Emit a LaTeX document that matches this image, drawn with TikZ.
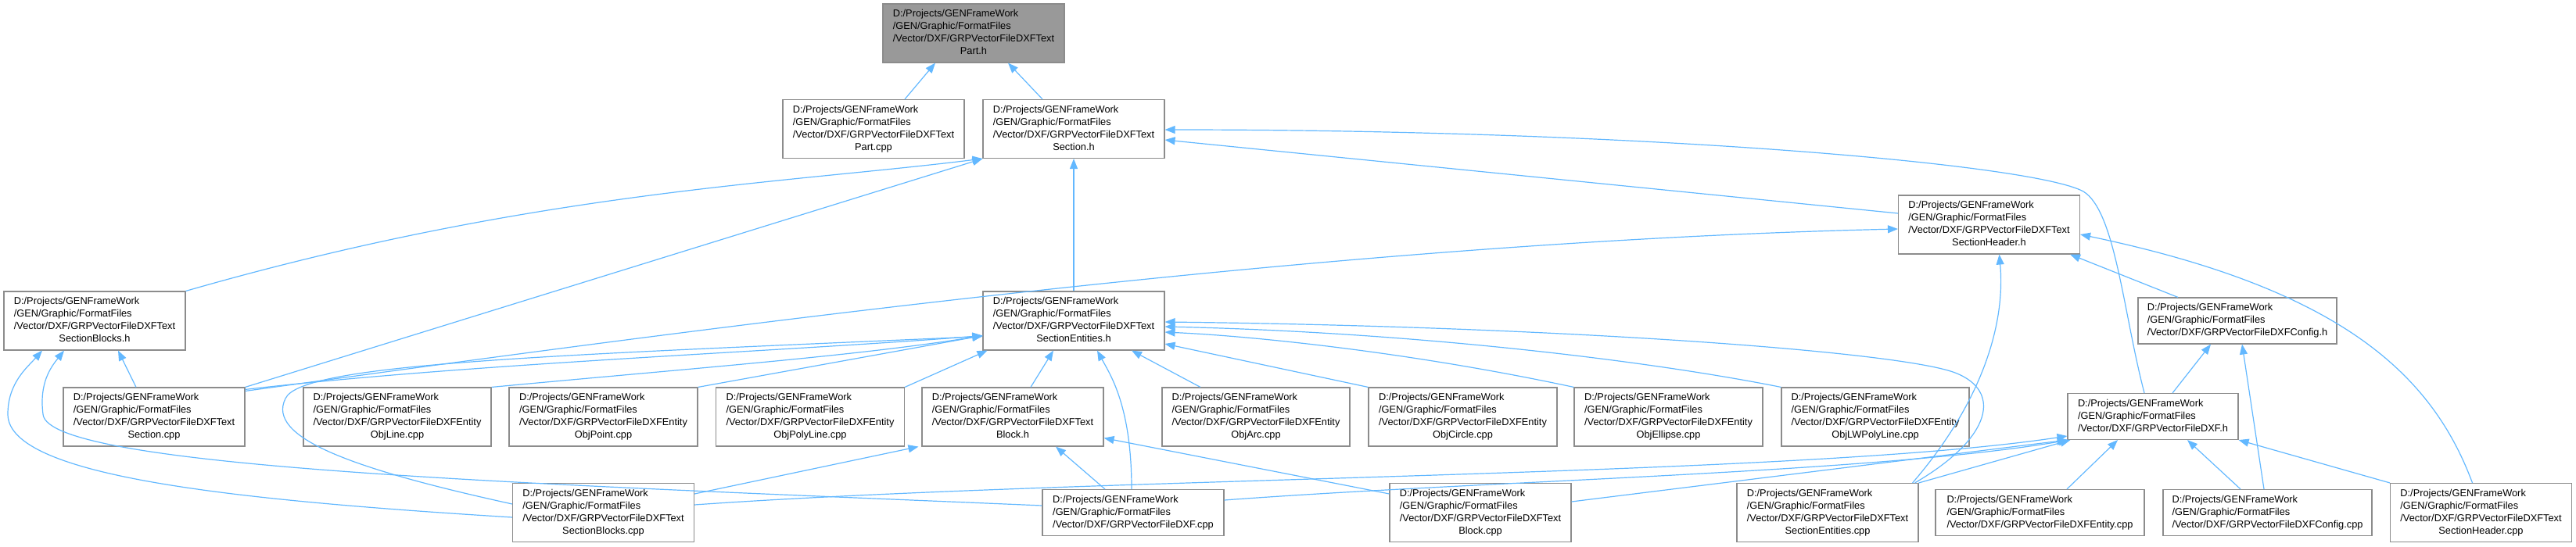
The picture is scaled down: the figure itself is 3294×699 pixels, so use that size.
\documentclass[tikz,border=0pt]{standalone}
\usepackage{fontspec}
\setmainfont{Liberation Sans}
\usetikzlibrary{arrows.meta}
\definecolor{edgeblue}{RGB}{99,184,255}
\definecolor{boxgray}{RGB}{140,140,140}
\definecolor{rootgray}{RGB}{153,153,153}
\newcommand{\fpath}[2]{\begin{tabular}{@{}l@{}}D:/Projects/GENFrameWork\\/GEN/Graphic/FormatFiles\\/Vector/DXF/GRPVectorFileDXF#1\\\multicolumn{1}{@{}c@{}}{#2}\end{tabular}}
\newcommand{\fshort}[1]{\begin{tabular}{@{}l@{}}D:/Projects/GENFrameWork\\/GEN/Graphic/FormatFiles\\/Vector/DXF/GRPVectorFileDXF#1\end{tabular}}
\begin{document}
\begin{tikzpicture}[x=1pt,y=-1pt,>={Triangle[length=13pt,width=10pt]},
	  file/.style={draw=boxgray,fill=white,line width=1.1pt,inner sep=0pt,minimum width=232pt,minimum height=75pt,font=\fontsize{12.8}{16}\selectfont},
	  short/.style={file,minimum height=59pt},
	  dep/.style={->,draw=edgeblue,line width=1.2pt}]
	  \useasboundingbox (0,0) rectangle (3294,699);
	  \node[file,fill=rootgray] (parth) at (1245,42.5) {\fpath{Text}{Part.h}};
	  \node[file] (partcpp) at (1117,165) {\fpath{Text}{Part.cpp}};
	  \node[file] (sech) at (1373,165) {\fpath{Text}{Section.h}};
	  \node[file] (hdrh) at (2543.5,287.5) {\fpath{Text}{SectionHeader.h}};
	  \node[file] (blkh) at (121,410.5) {\fpath{Text}{SectionBlocks.h}};
	  \node[file] (enth) at (1373,410.5) {\fpath{Text}{SectionEntities.h}};
	  \node[short,minimum width=254pt] (cfgh) at (2861,410.5) {\fshort{Config.h}};
	  \node[file] (seccpp) at (197,533.5) {\fpath{Text}{Section.cpp}};
	  \node[file,minimum width=240pt] (linecpp) at (508,533.5) {\fpath{Entity}{ObjLine.cpp}};
	  \node[file,minimum width=241pt] (pointcpp) at (771.5,533.5) {\fpath{Entity}{ObjPoint.cpp}};
	  \node[file,minimum width=241pt] (polycpp) at (1036,533.5) {\fpath{Entity}{ObjPolyLine.cpp}};
	  \node[file] (blockh) at (1295,533.5) {\fpath{Text}{Block.h}};
	  \node[file,minimum width=240pt] (arccpp) at (1606,533.5) {\fpath{Entity}{ObjArc.cpp}};
	  \node[file,minimum width=241pt] (circcpp) at (1870.5,533.5) {\fpath{Entity}{ObjCircle.cpp}};
	  \node[file,minimum width=241pt] (ellcpp) at (2133.5,533.5) {\fpath{Entity}{ObjEllipse.cpp}};
	  \node[file,minimum width=240pt] (lwpcpp) at (2398,533.5) {\fpath{Entity}{ObjLWPolyLine.cpp}};
	  \node[short,minimum width=218pt] (dxfh) at (2753,533) {\fshort{.h}};
	  \node[file] (sbcpp) at (771.5,656) {\fpath{Text}{SectionBlocks.cpp}};
	  \node[short] (dxfcpp) at (1449,656) {\fshort{.cpp}};
	  \node[file] (blockcpp) at (1893,656) {\fpath{Text}{Block.cpp}};
	  \node[file] (secentcpp) at (2337,656) {\fpath{Text}{SectionEntities.cpp}};
	  \node[short,minimum width=267pt] (entcpp) at (2608.5,656) {\fshort{Entity.cpp}};
	  \node[short,minimum width=267pt] (cfgcpp) at (2899.5,656) {\fshort{Config.cpp}};
	  \node[file] (hdrcpp) at (3172.5,656) {\fpath{Text}{SectionHeader.cpp}};
	  % Part.h and Section.h
	  \draw[dep] ([xshift=40pt]partcpp.north) -- ([xshift=-49pt]parth.south);
	  \draw[dep] ([xshift=-40pt]sech.north) -- ([xshift=44pt]parth.south);
	  \draw[dep] (blkh.north east) .. controls (680,245) and (1000,235) .. (sech.south west);
	  \draw[dep] (seccpp.north east) -- (sech.south west);
	  \draw[dep] (enth.north) -- (sech.south);
	  \draw[dep] ([yshift=14.5pt]hdrh.west) -- ([yshift=-14pt]sech.east);
	  \draw[dep] ([xshift=-11pt]dxfh.north) .. controls (2715,400) and (2705,270) .. (2664,245)
	    .. controls (2600,210) and (2100,166) .. ([yshift=-1pt]sech.east);
	  % SectionHeader.h
	  \draw[dep] ([yshift=-5pt]seccpp.north east) .. controls (900,420) and (1700,310) .. ([yshift=-5.5pt]hdrh.west);
	  \draw[dep] ([xshift=-76pt]cfgh.north) -- ([xshift=-13pt]hdrh.south east);
	  \draw[dep] ([xshift=-8pt]secentcpp.north east) .. controls (2530,520) and (2565,420) .. ([xshift=13pt]hdrh.south);
	  \draw[dep] ([xshift=-11pt]hdrcpp.north) .. controls (3110,480) and (2995,370) .. ([yshift=-12.5pt]hdrh.east);
	  % SectionBlocks.h
	  \draw[dep] ([xshift=-23pt]seccpp.north) -- ([xshift=30pt]blkh.south);
	  \draw[dep] ([yshift=-6pt]sbcpp.west) .. controls (300,640) and (10,610) .. (10,530)
	    .. controls (10,490) and (35,470) .. ([xshift=-67pt]blkh.south);
	  \draw[dep] ([yshift=9pt]dxfcpp.west) .. controls (700,620) and (60,600) .. (55,530)
	    .. controls (50,490) and (65,470) .. ([xshift=-39pt]blkh.south);
	  % SectionEntities.h
	  \draw[dep] ([yshift=-3pt]seccpp.north east) .. controls (600,465) and (1000,450) .. ([yshift=-19pt]enth.west);
	  \draw[dep] (linecpp.north east) .. controls (900,470) and (1100,455) .. ([yshift=-19pt]enth.west);
	  \draw[dep] (pointcpp.north east) -- ([yshift=-19pt]enth.west);
	  \draw[dep] ([yshift=11pt]sbcpp.west) .. controls (450,600) and (340,560) .. (365,510)
	    .. controls (385,465) and (700,455) .. ([yshift=-20pt]enth.west);
	  \draw[dep] (polycpp.north east) -- ([xshift=6pt]enth.south west);
	  \draw[dep] ([xshift=23pt]blockh.north) -- ([xshift=-26pt]enth.south);
	  \draw[dep] ([xshift=-2pt]dxfcpp.north) .. controls (1447,520) and (1420,480) .. ([xshift=30pt]enth.south);
	  \draw[dep] ([xshift=-71pt]arccpp.north) -- ([xshift=74pt]enth.south);
	  \draw[dep] (circcpp.north west) -- ([yshift=-29.5pt]enth.east);
	  \draw[dep] (ellcpp.north west) .. controls (1800,450) and (1600,430) .. ([yshift=-14.5pt]enth.east);
	  \draw[dep] (lwpcpp.north west) .. controls (2100,460) and (1800,425) .. ([yshift=-7.5pt]enth.east);
	  \draw[dep] ([xshift=-5pt]secentcpp.north east) .. controls (2548,560) and (2560,500) .. (2500,477)
	    .. controls (2430,450) and (2000,418) .. ([yshift=-1.5pt]enth.east);
	  % Block.h
	  \draw[dep] ([yshift=24pt]sbcpp.east) -- ([xshift=-4pt]blockh.south west);
	  \draw[dep] ([xshift=-36pt]dxfcpp.north) -- ([xshift=55pt]blockh.south);
	  \draw[dep] ([yshift=24pt]blockcpp.west) -- ([yshift=-27pt]blockh.east);
	  % GRPVectorFileDXF.h and Config.h
	  \draw[dep] ([yshift=10pt]sbcpp.east) .. controls (1400,610) and (2300,610) .. ([yshift=-25pt]dxfh.west);
	  \draw[dep] ([yshift=16pt]dxfcpp.east) .. controls (1900,615) and (2400,605) .. ([xshift=2pt]dxfh.south west);
	  \draw[dep] ([yshift=14pt]blockcpp.east) -- (dxfh.south west);
	  \draw[dep] (secentcpp.north east) -- ([xshift=4pt]dxfh.south west);
	  \draw[dep] ([xshift=34.5pt]entcpp.north) -- ([xshift=-45pt]dxfh.south);
	  \draw[dep] ([xshift=-34.5pt]cfgcpp.north) -- ([xshift=44pt]dxfh.south);
	  \draw[dep] (hdrcpp.north west) -- (dxfh.south east);
	  \draw[dep] ([xshift=25pt]dxfh.north) -- ([xshift=-34pt]cfgh.south);
	  \draw[dep] ([xshift=-4.5pt]cfgcpp.north) -- ([xshift=6pt]cfgh.south);
\end{tikzpicture}
\end{document}
